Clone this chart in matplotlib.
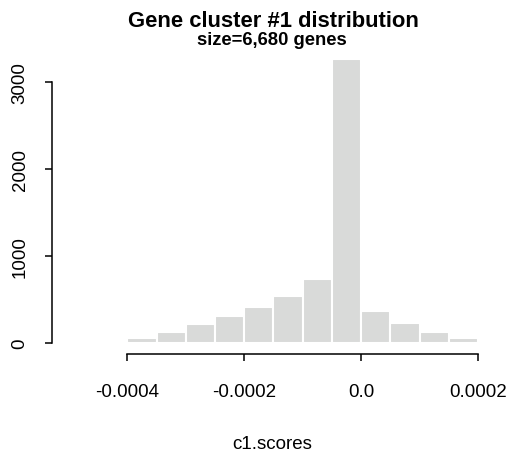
import numpy as np
import matplotlib
matplotlib.use("Agg")
import matplotlib.pyplot as plt

plt.rcParams['font.family'] = ['Liberation Sans', 'DejaVu Sans']

# histogram of c1.scores, bins of width 5e-5
bin_edges = [-0.0004, -0.00035, -0.0003, -0.00025, -0.0002, -0.00015, -0.0001,
             -0.00005, 0.0, 0.00005, 0.0001, 0.00015, 0.0002]
counts = [54, 126, 218, 307, 414, 540, 729, 3261, 368, 226, 120, 54]
x_ticks = [-0.0004, -0.0002, 0.0, 0.0002]
x_tick_labels = ["-0.0004", "-0.0002", "0.0", "0.0002"]
y_ticks = [0, 1000, 2000, 3000]

W, H = 510, 456
fig = plt.figure(figsize=(W / 100, H / 100), dpi=100)

# plot region in pixels
x0, x1 = 127.3, 478.0
y0, y_top = 343.7, 59.2
ax = fig.add_axes([x0 / W, (H - y0) / H, (x1 - x0) / W, (y0 - y_top) / H])

lefts = np.array(bin_edges[:-1])
widths = np.diff(bin_edges)
ax.bar(lefts, counts, width=widths, align='edge', color='#d9dad9',
       edgecolor='white', linewidth=1.5)

ax.set_xlim(bin_edges[0], bin_edges[-1])
ax.set_ylim(0, 3270)

for s in ['top', 'right']:
    ax.spines[s].set_visible(False)
ax.spines['left'].set_position(('outward', 54))
ax.spines['bottom'].set_position(('outward', 8.1))
ax.spines['left'].set_bounds(0, 3000)
ax.spines['bottom'].set_bounds(x_ticks[0], x_ticks[-1])
for s in ['left', 'bottom']:
    ax.spines[s].set_linewidth(1.1)

ax.set_xticks(x_ticks)
ax.set_xticklabels(x_tick_labels)
ax.set_yticks(y_ticks)
ax.set_yticklabels([str(v) for v in y_ticks], rotation=90, va='center')
ax.tick_params(axis='both', length=5, width=1.1, labelsize=13.5, colors='black')
ax.tick_params(axis='x', pad=16)
ax.tick_params(axis='y', pad=12)

fig.text(273.3 / W, 1 - 27.3 / H, "Gene cluster #1 distribution", ha='center',
         va='baseline', fontsize=15.8, fontweight='bold')
fig.text(272 / W, 1 - 45.5 / H, "size=6,680 genes", ha='center', va='baseline',
         fontsize=13.2, fontweight='bold')
fig.text(272 / W, 1 - 445 / H, "c1.scores", ha='center', va='center', fontsize=13.5)

fig.savefig("out.png", dpi=100)
